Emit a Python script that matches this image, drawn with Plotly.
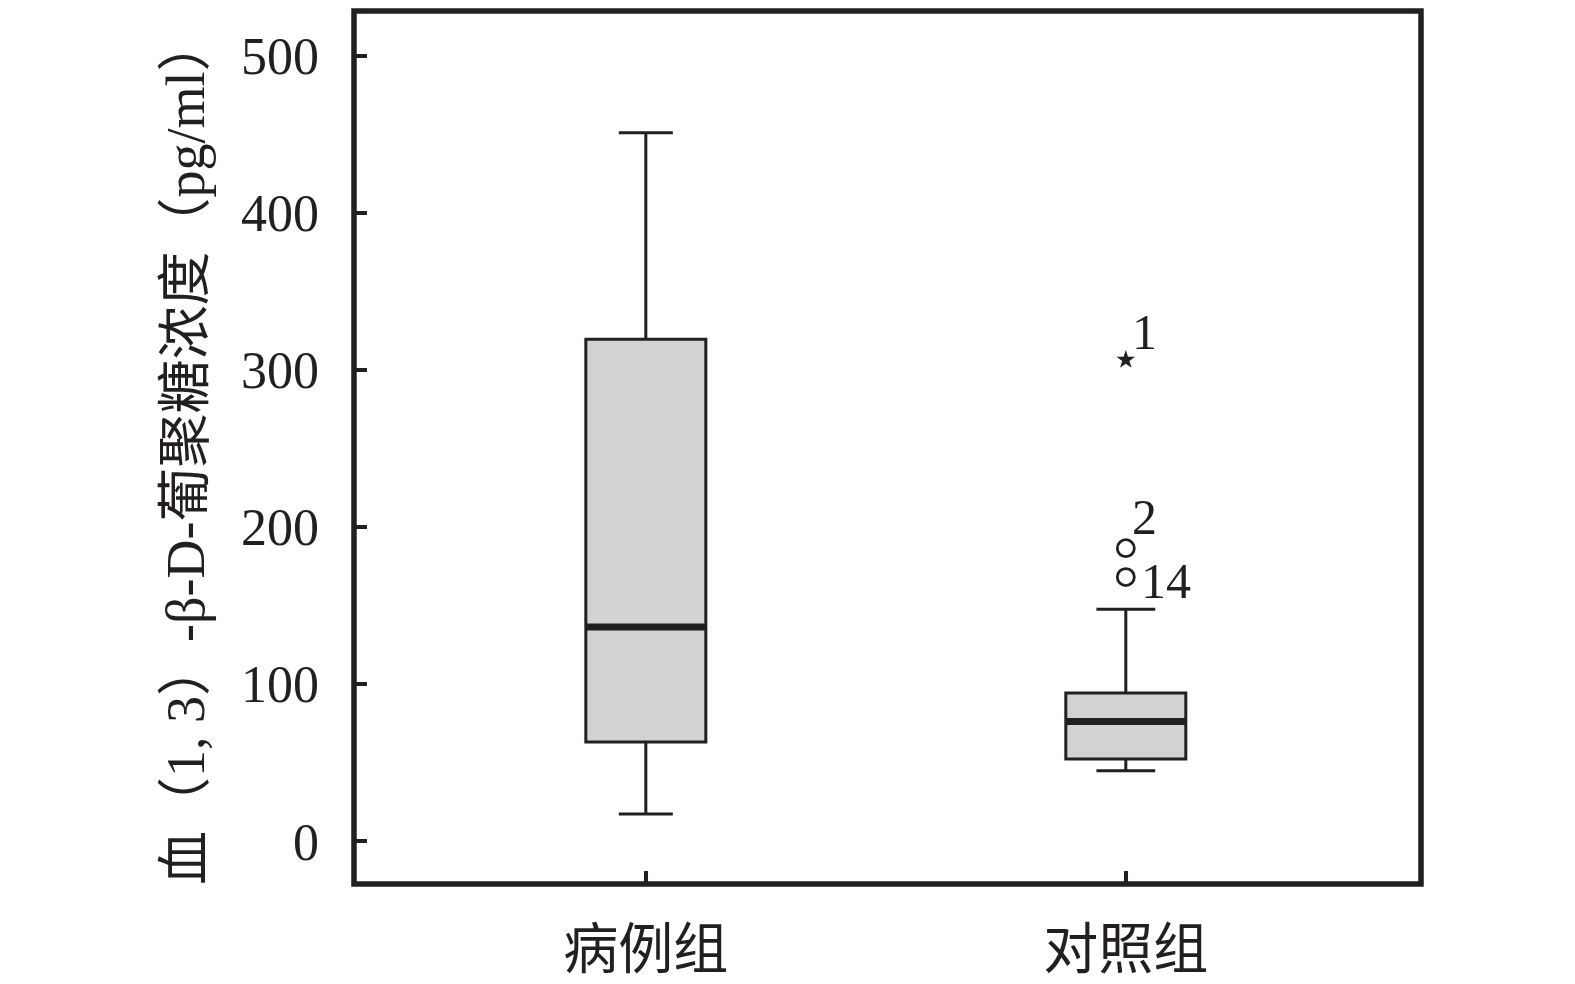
import plotly.graph_objects as go

# ---- data ----
categories = ["病例组", "对照组"]
positions = [0, 1]
q1 = [63.2, 52.4]
median = [136.4, 76.3]
q3 = [319.6, 94.4]
lower_fence = [17.4, 45.0]
upper_fence = [451.0, 147.8]
whisker_widths = [0.45, 0.49]

extreme_pos = [1]
extreme_val = [306.4]
extreme_lab = ["1"]

outlier_pos = [1, 1]
outlier_val = [186.6, 168.2]
outlier_lab = ["2", "14"]

y_ticks = [0, 100, 200, 300, 400, 500]

BOX_W = 0.25
INK = "#231f20"
SERIF = "Liberation Serif, Noto Sans CJK SC, serif"
CJK = "Noto Sans CJK SC, Liberation Serif, sans-serif"

fig = go.Figure()

for i in range(len(categories)):
    fig.add_trace(go.Box(
        x=[positions[i]], q1=[q1[i]], median=[median[i]], q3=[q3[i]],
        lowerfence=[lower_fence[i]], upperfence=[upper_fence[i]],
        width=BOX_W, whiskerwidth=whisker_widths[i],
        fillcolor="#d2d2d2", line=dict(color=INK, width=3),
        boxpoints=False, showlegend=False, hoverinfo="skip",
    ))
    # thick median bar
    fig.add_trace(go.Scatter(
        x=[positions[i] - BOX_W / 2, positions[i] + BOX_W / 2],
        y=[median[i], median[i]], mode="lines",
        line=dict(color=INK, width=7), showlegend=False, hoverinfo="skip",
    ))

fig.add_trace(go.Scatter(
    x=extreme_pos, y=extreme_val, mode="markers",
    marker=dict(symbol="star", size=14, color=INK, line=dict(width=0)),
    showlegend=False, hoverinfo="skip",
))
fig.add_trace(go.Scatter(
    x=outlier_pos, y=outlier_val, mode="markers",
    marker=dict(symbol="circle-open", size=17, color=INK, line=dict(width=2.8, color=INK)),
    showlegend=False, hoverinfo="skip",
))

label_shifts = {"1": (4, 28), "2": (4, 31), "14": (13, -4)}
for p, v, t in zip(extreme_pos + outlier_pos, extreme_val + outlier_val, extreme_lab + outlier_lab):
    dx, dy = label_shifts[t]
    fig.add_annotation(
        x=p, y=v, xref="x", yref="y", text=t, showarrow=False,
        xanchor="left", yanchor="middle", xshift=dx, yshift=dy,
        font=dict(family=SERIF, size=50, color=INK),
    )

# y-axis title
fig.add_annotation(
    xref="paper", yref="paper", x=(186 - 354) / 1067, y=(884 - 452) / 873,
    text="血（1, 3）-β-D-葡聚糖浓度（pg/ml）", textangle=-90, showarrow=False,
    xanchor="center", yanchor="middle",
    font=dict(family=SERIF, size=54, color=INK),
)

# frame
fig.add_shape(type="rect", xref="paper", yref="paper", x0=0, x1=1, y0=0, y1=1,
              line=dict(color=INK, width=5.5), fillcolor="rgba(0,0,0,0)", layer="above")

fig.update_layout(
    width=1575, height=984,
    margin=dict(l=354, r=1575 - 1421, t=11, b=984 - 884, pad=0, autoexpand=False),
    paper_bgcolor="white", plot_bgcolor="white",
    showlegend=False,
    xaxis=dict(
        range=[-0.608, 1.615], tickmode="array", tickvals=positions, ticktext=categories,
        ticks="inside", ticklen=13, tickwidth=4, tickcolor=INK,
        showgrid=False, zeroline=False, showline=False, automargin=False,
        tickfont=dict(family=CJK, size=55, color=INK), ticklabelstandoff=28,
    ),
    yaxis=dict(
        range=[-27.1, 528.4], tickmode="array", tickvals=y_ticks,
        ticks="inside", ticklen=13, tickwidth=4, tickcolor=INK,
        showgrid=False, zeroline=False, showline=False, automargin=False,
        tickfont=dict(family=SERIF, size=52, color=INK), ticklabelstandoff=34,
    ),
)

fig.write_html("out.html", config={"displayModeBar": False},
               post_script="document.body.style.margin='0px';")
